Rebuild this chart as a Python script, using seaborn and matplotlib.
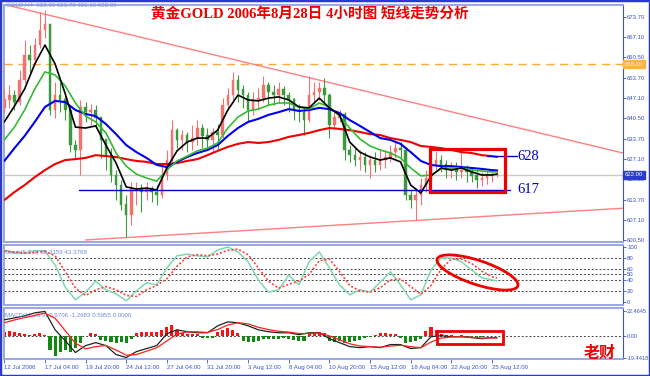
import numpy as np
import matplotlib
matplotlib.use("Agg")
import matplotlib.pyplot as plt
import seaborn as sns
from matplotlib.patches import Ellipse, Rectangle
from matplotlib.transforms import Affine2D, blended_transform_factory

# ---------------- data (4h gold, shown as 8h bars) ----------------
first_open = 643.9
close = [646.5, 648.1, 645.8, 653.0, 661.2, 659.6, 664.5, 669.4, 671.1, 643.2,
         648.1, 646.5, 643.2, 631.7, 630.1, 643.9, 642.5, 643.2, 640.6, 633.4,
         628.4, 621.9, 618.6, 612.1, 608.8, 617.0, 617.6, 616.3, 617.6, 616.3,
         615.3, 621.9, 626.8, 636.6, 633.4, 635.0, 632.7, 634.0, 637.3, 634.7,
         633.4, 636.0, 635.0, 644.8, 648.1, 653.0, 649.8, 648.1, 643.2, 646.5,
         647.1, 651.4, 649.1, 648.1, 649.8, 648.1, 646.5, 643.2, 642.5, 639.9,
         648.1, 649.1, 650.4, 648.1, 638.3, 640.6, 641.6, 630.1, 628.4, 626.8,
         627.5, 625.2, 626.8, 625.2, 626.8, 627.5, 629.4, 630.7, 630.1, 615.3,
         613.7, 615.3, 618.6, 620.9, 625.2, 626.8, 625.2, 623.5, 624.2, 622.9,
         623.5, 622.9, 621.6, 620.3, 620.9, 621.6, 621.9, 622.0]
high = [650.4, 651.4, 649.8, 656.3, 666.2, 664.5, 666.8, 675.3, 676.0, 671.1,
        652.4, 652.4, 648.1, 644.8, 633.4, 646.5, 645.8, 645.2, 644.8, 640.6,
        633.4, 630.7, 623.5, 620.3, 615.3, 619.6, 619.6, 618.9, 619.6, 618.3,
        618.6, 625.2, 630.1, 639.9, 637.3, 636.6, 636.0, 638.3, 639.9, 638.6,
        637.3, 637.3, 638.6, 647.1, 650.4, 655.7, 654.7, 651.4, 649.1, 649.1,
        650.4, 654.4, 652.4, 651.4, 652.4, 651.1, 649.1, 647.1, 645.2, 643.9,
        654.4, 652.4, 652.4, 653.7, 648.8, 643.2, 643.2, 642.5, 631.7, 630.7,
        630.1, 629.4, 628.4, 629.4, 630.1, 630.1, 631.7, 633.4, 632.7, 631.0,
        617.0, 617.6, 620.9, 623.5, 627.5, 629.4, 628.4, 626.8, 626.2, 626.2,
        629.4, 625.2, 624.2, 623.5, 622.9, 623.5, 623.5, 623.7]
low = [642.5, 643.9, 643.2, 645.0, 652.0, 655.7, 658.0, 663.5, 666.8, 641.6,
       640.6, 642.5, 639.9, 629.4, 627.5, 621.9, 639.3, 638.3, 637.3, 627.5,
       623.5, 619.6, 613.7, 610.4, 601.6, 605.5, 612.1, 609.8, 613.7, 613.0,
       612.1, 614.4, 620.3, 625.2, 630.7, 630.1, 629.4, 630.1, 631.7, 630.7,
       630.1, 629.4, 630.1, 634.0, 643.2, 646.5, 645.8, 643.9, 639.3, 641.6,
       643.2, 645.8, 644.8, 644.8, 645.8, 644.8, 642.5, 639.9, 639.3, 635.0,
       639.3, 645.8, 646.5, 644.8, 634.0, 637.3, 639.3, 626.8, 626.2, 624.8,
       623.5, 622.9, 620.9, 622.9, 623.5, 624.2, 626.2, 627.5, 626.8, 613.7,
       611.1, 607.1, 612.1, 616.3, 619.6, 623.5, 622.9, 620.9, 620.9, 620.3,
       620.9, 619.6, 619.6, 617.6, 618.3, 618.9, 619.6, 621.1]

# indicator samples (every second bar + last bar)
ind_idx = list(range(0, 98, 2)) + [97]
ma_black = [639.3, 644.5, 650.1, 658.3, 664.5, 658.3, 648.5, 637.6, 637.3, 638.0,
            631.7, 625.8, 618.0, 617.3, 617.6, 617.0, 624.2, 629.8, 632.7, 634.0,
            634.0, 636.6, 643.2, 648.1, 646.5, 646.2, 647.1, 647.5, 646.5, 644.2,
            643.9, 647.1, 643.9, 641.6, 632.7, 629.4, 627.8, 626.8, 627.5, 626.2,
            618.6, 616.0, 621.6, 624.2, 623.5, 624.2, 622.9, 621.9, 621.9, 622.2]
ma_green = [633.4, 637.6, 643.2, 650.1, 655.7, 654.7, 651.1, 645.5, 641.2, 639.3,
            635.7, 629.1, 624.8, 622.2, 620.9, 619.9, 623.5, 626.5, 628.1, 629.8,
            630.7, 632.4, 637.3, 640.9, 642.9, 643.5, 644.8, 645.5, 645.5, 644.2,
            643.5, 645.5, 644.2, 641.2, 637.3, 633.7, 631.4, 630.1, 629.1, 627.5,
            624.2, 621.6, 621.9, 623.9, 624.2, 624.2, 623.5, 623.2, 622.9, 622.9]
ma_blue = [626.5, 630.7, 634.7, 639.3, 644.2, 646.2, 645.8, 643.2, 641.9, 641.2,
           638.6, 635.3, 631.7, 629.4, 627.5, 625.2, 624.5, 626.2, 627.8, 629.1,
           630.1, 631.7, 634.7, 637.3, 639.3, 640.3, 641.6, 642.5, 643.5, 642.9,
           643.2, 643.9, 643.5, 642.2, 639.9, 638.0, 636.0, 634.0, 633.4, 632.1,
           629.4, 626.5, 625.2, 624.8, 624.8, 624.5, 624.2, 623.9, 623.5, 623.4]
ma_red = [613.7, 616.3, 618.6, 621.2, 623.5, 625.5, 626.8, 627.1, 627.5, 628.4,
          628.1, 627.8, 627.1, 626.5, 626.2, 625.5, 625.5, 625.8, 626.5, 627.1,
          628.4, 629.8, 631.1, 632.1, 632.7, 632.4, 632.7, 633.4, 634.4, 635.0,
          635.7, 636.6, 637.3, 637.0, 636.6, 636.0, 635.3, 635.0, 634.0, 633.4,
          632.7, 631.4, 631.1, 630.7, 630.1, 629.4, 629.1, 628.4, 628.1, 627.8]
stoch_main = [94.5, 89, 89, 93, 93, 67, 27, 4, 18, 38,
              22, 15, 2, 20, 35, 31, 62, 84, 87, 84,
              82, 94.5, 100, 91, 73, 40, 18, 22, 49, 31,
              73, 91, 62, 31, 13, 22, 18, 36, 55, 31,
              4, 13, 58, 80, 80, 73, 58, 44, 40, 38.3]
stoch_signal = [92, 91, 89, 90, 92, 84, 55, 25, 12, 22,
                28, 22, 12, 10, 22, 30, 42, 65, 82, 86,
                84, 87, 94, 96, 86, 62, 38, 25, 32, 38,
                50, 75, 78, 55, 30, 20, 18, 26, 40, 42,
                28, 14, 30, 60, 78, 78, 70, 56, 46, 43.4]
macd_main = [14.6, 16.3, 18.1, 20.7, 22.0, 5.8, -3.8, -14.2, -8.1, -5.5,
             -8.1, -16.0, -18.6, -13.4, -10.7, -8.1, 2.4, 5.8, 4.1, 3.2,
             3.2, 9.3, 12.8, 12.0, 9.3, 5.8, 4.1, 3.2, 3.2, 1.5,
             3.2, 3.2, -2.0, -5.5, -9.0, -9.9, -9.0, -9.9, -7.2, -7.2,
             -10.7, -9.9, -0.3, 0.6, -0.3, -0.3, -1.1, -2.0, -1.1, -1.27]
macd_signal = [12.0, 14.5, 16.5, 18.5, 20.5, 16.0, 5.0, -6.0, -11.0, -9.0,
               -8.0, -12.0, -16.5, -16.0, -13.0, -10.0, -4.0, 2.0, 4.0, 4.0,
               3.5, 6.0, 10.0, 12.0, 11.0, 8.0, 6.0, 4.5, 3.8, 2.5,
               2.5, 3.0, 0.5, -3.0, -6.5, -8.5, -9.0, -9.5, -8.5, -7.8,
               -9.0, -10.0, -5.0, -1.5, -0.5, -0.3, -0.8, -1.5, -1.4, -1.3]
macd_hist = [4, 4.5, 4, 3, 2, 1.5, 2, 3, 1, -12,
             -17, -14, -12, -14, -10, -6, 0.5, 3, 2, -3,
             -4, -5, -6, -5, -6, -2, 3, 4, 4, 3.5,
             4, 6, 8, 10, 6, 3, 2.5, 2.5, 2, -1,
             -1.5, -1, 4, 6, 7, 6, 3, -4, -5, -5,
             -4, -2, -2, -2.5, -2, -1.5, -2, -3, -4, -4,
             2, 4, 4, 3, -4, -5, -4, -6, -5, -4,
             -3, -1, -0.5, 1, 3, 3, 2.5, 2, -1, -6,
             -5, -4, -2, 5, 8, 6, 2, 1, 0.8, -0.5,
             1.5, -0.8, -1, -1.2, -0.8, 0.6, 0.5, 0.6]

tick_pos = list(range(0, 97, 8))
tick_labels = ["12 Jul 2006", "17 Jul 04:00", "19 Jul 20:00", "24 Jul 12:00",
               "27 Jul 04:00", "31 Jul 20:00", "3 Aug 12:00", "8 Aug 04:00",
               "10 Aug 20:00", "15 Aug 12:00", "18 Aug 04:00", "22 Aug 20:00",
               "25 Aug 12:00"]
price_ticks = [673.70, 667.10, 660.50, 653.70, 647.10, 640.50, 633.70,
               627.10, 620.50, 613.70, 607.10, 600.50]
stoch_ticks = [100, 80, 60, 50, 40, 20, 0]
macd_ticks = [22.4645, 0.0, -19.4418]
macd_tick_labels = ["22.4645", "0.00", "-19.4418"]

last_price = 622.00
orange_level = 658.20
res_level, sup_level = 628.1, 617.0
upper_trend = ([0, 121.8], [677.8, 629.1])
lower_trend = ([16, 121.8], [600.6, 611.0])

# ---------------- style ----------------
sns.set_theme(style="white")
plt.rcParams["font.family"] = ["Liberation Sans", "DejaVu Sans"]
AXC = "#3a55c8"
W, H = 650, 376
fig = plt.figure(figsize=(6.5, 3.76), dpi=100, facecolor="white")


def rect(l, t, r, b):
    return [l / W, 1 - b / H, (r - l) / W, (b - t) / H]


ax1 = fig.add_axes(rect(4, 5, 623, 242))
ax2 = fig.add_axes(rect(4, 245, 623, 305))
ax3 = fig.add_axes(rect(4, 308, 623, 359))
XL = (-0.06, 121.8)
for ax in (ax1, ax2, ax3):
    ax.set_xlim(*XL)
    ax.set_facecolor("white")
    for s in ax.spines.values():
        s.set_color("#9aa6e6")
        s.set_linewidth(1.4)
    ax.spines["right"].set_color(AXC)
    ax.spines["right"].set_linewidth(0.8)
    ax.yaxis.tick_right()
    ax.tick_params(axis="y", which="both", direction="out", length=2, width=0.6,
                   colors=AXC, labelsize=4.3, pad=1)
    ax.tick_params(axis="x", bottom=False, labelbottom=False)
    ax.grid(False)

ax1.set_ylim(599.93, 677.63)
ax2.set_ylim(-5.5, 103.6)
ax3.set_ylim(-19.9, 25.0)

# ---------------- main panel ----------------
idx = np.arange(len(close))
opens = np.r_[first_open, np.array(close[:-1])]
cl = np.array(close)
up = cl >= opens
col = np.where(up, "#f27272", "#3c9a3c")
ax1.vlines(idx, low, high, colors=col, linewidth=0.8, zorder=3)
ax1.bar(idx, np.abs(cl - opens) + 0.15, bottom=np.minimum(cl, opens), width=0.5,
        color=col, edgecolor=col, linewidth=0.3, zorder=3)

ax1.axhline(last_price, color="#c8c8c8", lw=1, zorder=1)
ax1.axhline(orange_level, color="#ffaa33", lw=1, ls=(0, (6, 4)), zorder=1)
ax1.plot(*upper_trend, color="#ff8080", lw=1, zorder=2)
ax1.plot(*lower_trend, color="#ff8080", lw=1, zorder=2)

sns.lineplot(x=ind_idx, y=ma_red, ax=ax1, color="#ee0000", linewidth=1.5, zorder=4, sort=False)
sns.lineplot(x=ind_idx, y=ma_blue, ax=ax1, color="#0000ee", linewidth=1.5, zorder=4, sort=False)
sns.lineplot(x=ind_idx, y=ma_green, ax=ax1, color="#33bb33", linewidth=1.2, zorder=5, sort=False)
sns.lineplot(x=ind_idx, y=ma_black, ax=ax1, color="#000000", linewidth=1.2, zorder=6, sort=False)

ax1.plot([14.7, 99.5], [sup_level, sup_level], color="#0000cc", lw=1, zorder=6)
ax1.plot([95.0, 100.9], [res_level, res_level], color="#0000cc", lw=1, zorder=6)
ax1.add_patch(Rectangle((83.8, 616.3), 14.8, 14.1, fill=False, ec="#ee0000", lw=2.3, zorder=7))
ax1.text(101.1, res_level, "628", color="#0000cc", fontsize=10.5, va="center", ha="left",
         family=["Liberation Serif", "DejaVu Serif"], zorder=8)
ax1.text(101.1, sup_level, "617", color="#0000cc", fontsize=10.5, va="center", ha="left",
         family=["Liberation Serif", "DejaVu Serif"], zorder=8)

ax1.set_yticks(price_ticks)
ax1.set_yticklabels([f"{v:.2f}" for v in price_ticks])
btr = blended_transform_factory(ax1.transAxes, ax1.transData)
ax1.text(1.003, last_price, f"{last_price:.2f}", transform=btr, fontsize=4.3, color="white",
         va="center", ha="left", zorder=10,
         bbox=dict(boxstyle="square,pad=0.25", fc="#2b3bd0", ec="#2b3bd0"), clip_on=False)
ax1.text(1.003, orange_level, f"{orange_level:.2f}", transform=btr, fontsize=4.3, color="#fff2d0",
         va="center", ha="left", zorder=10,
         bbox=dict(boxstyle="square,pad=0.25", fc="#ffb347", ec="#ffb347"), clip_on=False)

# ---------------- stochastic ----------------
for lv in (80, 60, 50, 40, 20):
    ax2.axhline(lv, color="#444444", lw=0.7, ls=(0, (2, 2)), zorder=1)
sns.lineplot(x=ind_idx, y=stoch_main, ax=ax2, color="#80d8b0", linewidth=1.1, zorder=3, sort=False)
sns.lineplot(x=ind_idx, y=stoch_signal, ax=ax2, color="#ff4040", linewidth=1.2,
             linestyle=(0, (1.2, 1.2)), zorder=4, sort=False)
ax2.set_yticks(stoch_ticks)
ax2.set_yticklabels([str(v) for v in stoch_ticks])
ax2.text(0.002, 0.88, "Stoch(5,3,3) 38.3159 43.3768", transform=ax2.transAxes,
         fontsize=4.4, color="#7088d8", va="center", ha="left")

# ---------------- MACD ----------------
ax3.axhline(0, color="#444444", lw=0.7, ls=(0, (2, 2)), zorder=1)
hcol = ["#ff1010" if v >= 0 else "#118811" for v in macd_hist]
ax3.bar(idx, macd_hist, width=0.6, color=hcol, linewidth=0, zorder=2)
sns.lineplot(x=ind_idx, y=macd_main, ax=ax3, color="#222222", linewidth=0.9, zorder=3, sort=False)
sns.lineplot(x=ind_idx, y=macd_signal, ax=ax3, color="#ff2020", linewidth=0.9, zorder=4, sort=False)
ax3.add_patch(Rectangle((85.2, -6.4), 13.0, 11.4, fill=False, ec="#ee0000", lw=2, zorder=6))
ax3.set_yticks(macd_ticks)
ax3.set_yticklabels(macd_tick_labels)
ax3.tick_params(axis="y", labelsize=4.0, pad=0.8)
ax3.text(0.002, 0.85, "MACD(12,26,9) 0.9706 -1.2683 0.5955 0.0000", transform=ax3.transAxes,
         fontsize=4.4, color="#7088d8", va="center", ha="left")
ax3.set_xticks(tick_pos)
ax3.set_xticklabels(tick_labels)
ax3.tick_params(axis="x", bottom=True, labelbottom=True, direction="out", length=3,
                width=0.6, colors=AXC, labelsize=4.4, pad=1.5)
for t in ax3.get_xticklabels():
    t.set_ha("left")

for ax in (ax1, ax2, ax3):
    if ax.get_legend():
        ax.get_legend().remove()

# ---------------- annotations ----------------
cx, cy = ax2.transData.transform((93.15, 53.6))
ell = Ellipse((0, 0), width=85, height=24, angle=-18.4, fill=False, ec="#ee0000", lw=2,
              transform=Affine2D().translate(cx, cy))
fig.add_artist(ell)

fig.text(310 / W, 1 - 14 / H, "黄金GOLD 2006年8月28日 4小时图 短线走势分析", ha="center", va="center",
         color="#ee0000", fontsize=10.5, fontweight="bold",
         family=["Liberation Serif", "Noto Sans CJK SC"])
fig.text(600 / W, 1 - 353 / H, "老财", ha="center", va="center", color="#ee0000",
         fontsize=11.5, fontweight="bold", family=["Noto Sans CJK SC"])
fig.text(6 / W, 1 - 5 / H, "GOLD,H4  622.60 623.70 621.10 622.00", ha="left", va="center",
         color="#8898d0", fontsize=4.4)

fig.add_artist(Rectangle((0, 0), 1, 1, transform=fig.transFigure, fill=False,
                         ec="#2a3ad0", lw=2.5))

fig.savefig("out.png", dpi=100, facecolor="white")
